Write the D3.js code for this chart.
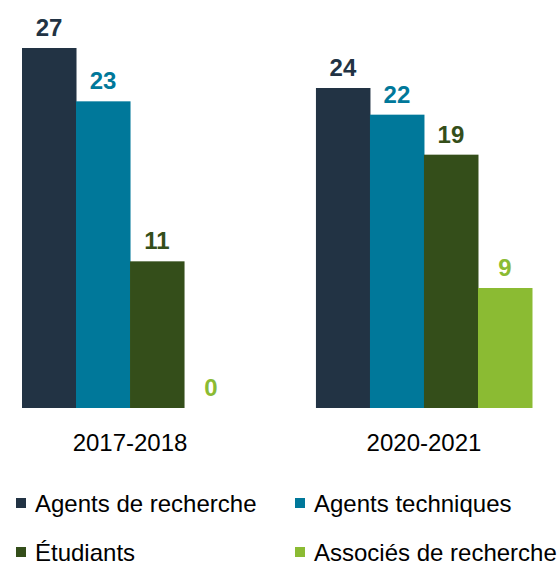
<!DOCTYPE html>
<html>
<head>
<meta charset="utf-8">
<script src="https://cdn.jsdelivr.net/npm/d3@7"></script>
<style>
  body { margin: 0; background: #fff; }
  text { font-family: "Liberation Sans", Arial, sans-serif; }
</style>
</head>
<body>
<svg id="chart" width="557" height="562"></svg>
<script>
// data
const years = ['2017-2018', '2020-2021'];
const series = ['Agents de recherche', 'Agents techniques', 'Étudiants', 'Associés de recherche'];
const colors = ['#223344', '#00789a', '#344e1a', '#8bbb33'];
const counts = [
    [27, 23, 11, 0],
    [24, 22, 19, 9]
];

const width = 557;
const height = 562;
const baseline = 408;

const svg = d3.select('#chart');

// group scale: one band per year
const x0 = d3.scaleBand()
    .domain(years)
    .range([22, 532])
    .paddingInner(0.265)
    .paddingOuter(0);

// bars inside a group
const x1 = d3.scaleBand()
    .domain(series)
    .range([0, x0.bandwidth()]);

const y = d3.scaleLinear()
    .domain([0, 27])
    .range([baseline, 48]);

const groups = svg.selectAll('g.year')
    .data(years)
    .enter()
    .append('g')
    .attr('class', 'year')
    .attr('transform', d => `translate(${x0(d)},0)`);

groups.selectAll('rect')
    .data((d, i) => series.map((s, j) => ({ s, j, v: counts[i][j] })))
    .enter()
    .append('rect')
    .attr('x', d => x1(d.s))
    .attr('y', d => y(d.v))
    .attr('width', x1.bandwidth() + 0.5)
    .attr('height', d => baseline - y(d.v))
    .attr('fill', d => colors[d.j]);

// value labels
groups.selectAll('text.val')
    .data((d, i) => series.map((s, j) => ({ s, j, v: counts[i][j] })))
    .enter()
    .append('text')
    .attr('class', 'val')
    .attr('x', d => x1(d.s) + x1.bandwidth() / 2)
    .attr('y', d => y(d.v) - 12)
    .attr('text-anchor', 'middle')
    .style('font-size', '24px')
    .style('font-weight', 'bold')
    .style('fill', d => colors[d.j])
    .text(d => d.v);

// category axis labels
svg.append('g')
    .attr('transform', `translate(0, ${baseline})`)
    .call(d3.axisBottom(x0).tickSize(0).tickPadding(0))
    .call(g => g.select('.domain').remove())
    .call(g => g.selectAll('text')
        .attr('dy', null)
        .attr('y', 43)
        .style('font-family', '"Liberation Sans", Arial, sans-serif')
        .style('font-size', '24px')
        .style('fill', '#000'));

// legend, two columns
const legend = svg.append('g')
    .selectAll('g')
    .data(series)
    .enter()
    .append('g')
    .attr('transform', (d, i) => `translate(${i % 2 ? 295 : 16}, ${i < 2 ? 498 : 547})`);

legend.append('rect')
    .attr('width', 10)
    .attr('height', 10)
    .attr('fill', (d, i) => colors[i]);

legend.append('text')
    .attr('x', 19)
    .attr('y', 14)
    .style('font-size', '24px')
    .style('fill', '#000')
    .text(d => d);
</script>
</body>
</html>
